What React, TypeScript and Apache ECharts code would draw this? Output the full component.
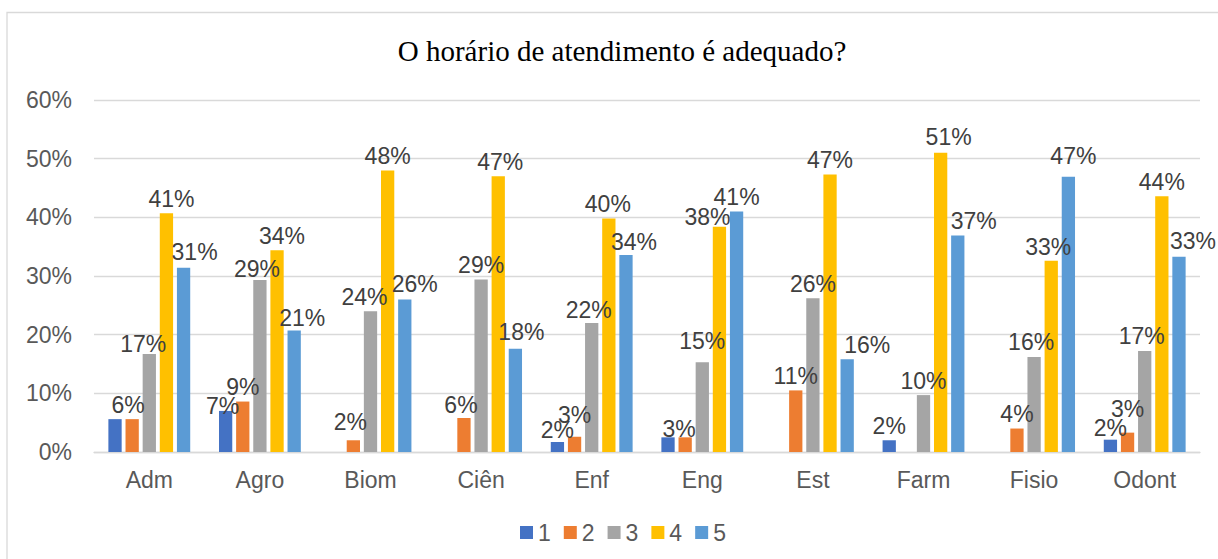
import React, { useEffect, useRef } from "react";
import * as echarts from "echarts";

const categories = ["Adm", "Agro", "Biom", "Ciên", "Enf", "Eng", "Est", "Farm", "Fisio", "Odont"];
const seriesNames = ["1", "2", "3", "4", "5"];
const s1 = [5.6, 7.0, null, null, 1.7, 2.5, null, 2.0, null, 2.1];
const s2 = [5.6, 8.6, 2.0, 5.8, 2.6, 2.5, 10.5, null, 4.0, 3.3];
const s3 = [16.7, 29.3, 24.0, 29.4, 22.0, 15.3, 26.2, 9.7, 16.2, 17.2];
const s4 = [40.7, 34.4, 48.0, 47.0, 39.8, 38.4, 47.3, 51.0, 32.6, 43.6];
const s5 = [31.4, 20.7, 26.0, 17.6, 33.6, 41.0, 15.8, 36.9, 46.9, 33.3];
const seriesData = [s1, s2, s3, s4, s5];
const colors = ["#4472C4", "#ED7D31", "#A5A5A5", "#FFC000", "#5B9BD5"];

// Where two equal labels coincide, the reference shows a single label.
const hiddenLabels: Record<number, number[]> = { 0: [0, 5] };
// Label nudges [dx, dy] (px) as placed in the reference, per series -> category index.
const labelOffsets: Record<number, Record<number, [number, number]>> = {
  0: { 1: [-3, 10], 4: [0, 2], 9: [0, 3] },
  1: { 0: [-4, 0], 2: [-3, -4], 3: [-3, 2], 4: [0, -7], 5: [-6, 6], 9: [0, -9] },
  2: { 0: [-6, 4], 1: [-3, 3], 2: [-6, 0], 4: [-3, 2], 5: [0, -7], 8: [-3, 0], 9: [-3, -1] },
  3: { 0: [5, 0], 1: [5, 0], 3: [2, 0], 4: [-1, 0], 5: [-12, 5], 7: [8, -1], 8: [-3, 1] },
  4: { 0: [11, -1], 1: [8, 2], 2: [10, -1], 3: [6, -2], 4: [8, 2], 6: [20, 0], 7: [16, 0], 8: [5, -6], 9: [14, -1] },
};

const SANS = "'Liberation Sans', Arial, sans-serif";

export default function App() {
  const ref = useRef<HTMLDivElement>(null);
  useEffect(() => {
    if (!ref.current) return;
    const chart = echarts.init(ref.current, null, { renderer: "svg" });
    chart.setOption({
      animation: false,
      color: colors,
      title: {
        text: "O horário de atendimento é adequado?",
        left: 617,
        textAlign: "center",
        top: 31,
        textStyle: {
          fontFamily: "'Liberation Serif', 'Times New Roman', serif",
          fontSize: 29,
          fontWeight: "normal",
          color: "#000",
        },
      },
      graphic: [
        {
          type: "rect",
          shape: { x: 7, y: 12.5, width: 1240, height: 600 },
          style: { fill: "none", stroke: "#d9d9d9", lineWidth: 1.3 },
          silent: true,
        },
      ],
      legend: {
        left: 515,
        top: 516,
        itemWidth: 13,
        itemHeight: 13,
        itemGap: 13,
        icon: "rect",
        textStyle: { fontFamily: SANS, fontSize: 23, color: "#595959" },
        data: seriesNames,
      },
      grid: { left: 94, right: 18, top: 100, bottom: 107 },
      xAxis: {
        type: "category",
        data: categories,
        axisLine: { lineStyle: { color: "#d9d9d9", width: 1.3 } },
        axisTick: { show: false },
        axisLabel: { fontFamily: SANS, fontSize: 23, color: "#595959", margin: 16 },
      },
      yAxis: {
        type: "value",
        min: 0,
        max: 60,
        interval: 10,
        axisLine: { show: false },
        axisTick: { show: false },
        splitLine: { lineStyle: { color: "#d9d9d9", width: 1.3 } },
        axisLabel: {
          fontFamily: SANS,
          fontSize: 23,
          color: "#595959",
          margin: 22,
          formatter: "{value}%",
        },
      },
      series: seriesData.map((d, i) => ({
        name: seriesNames[i],
        type: "bar",
        data: d.map((v, j) => {
          if (v == null) return null;
          if (hiddenLabels[i] && hiddenLabels[i].includes(j)) {
            return { value: v, label: { show: false } };
          }
          const off = labelOffsets[i] && labelOffsets[i][j];
          if (off) {
            return { value: v, label: { offset: off } };
          }
          return v;
        }),
        barCategoryGap: "26%",
        barGap: "29%",
        itemStyle: { color: colors[i] },
        label: {
          show: true,
          position: "top",
          distance: 3,
          fontFamily: SANS,
          fontSize: 23,
          color: "#404040",
          formatter: (p: any) => (p.value == null ? "" : Math.round(p.value) + "%"),
        },
      })),
    });
    return () => chart.dispose();
  }, []);
  return (
    <div
      ref={ref}
      style={{ position: "fixed", left: 0, top: 0, width: 1218, height: 559, background: "#fff" }}
    />
  );
}
